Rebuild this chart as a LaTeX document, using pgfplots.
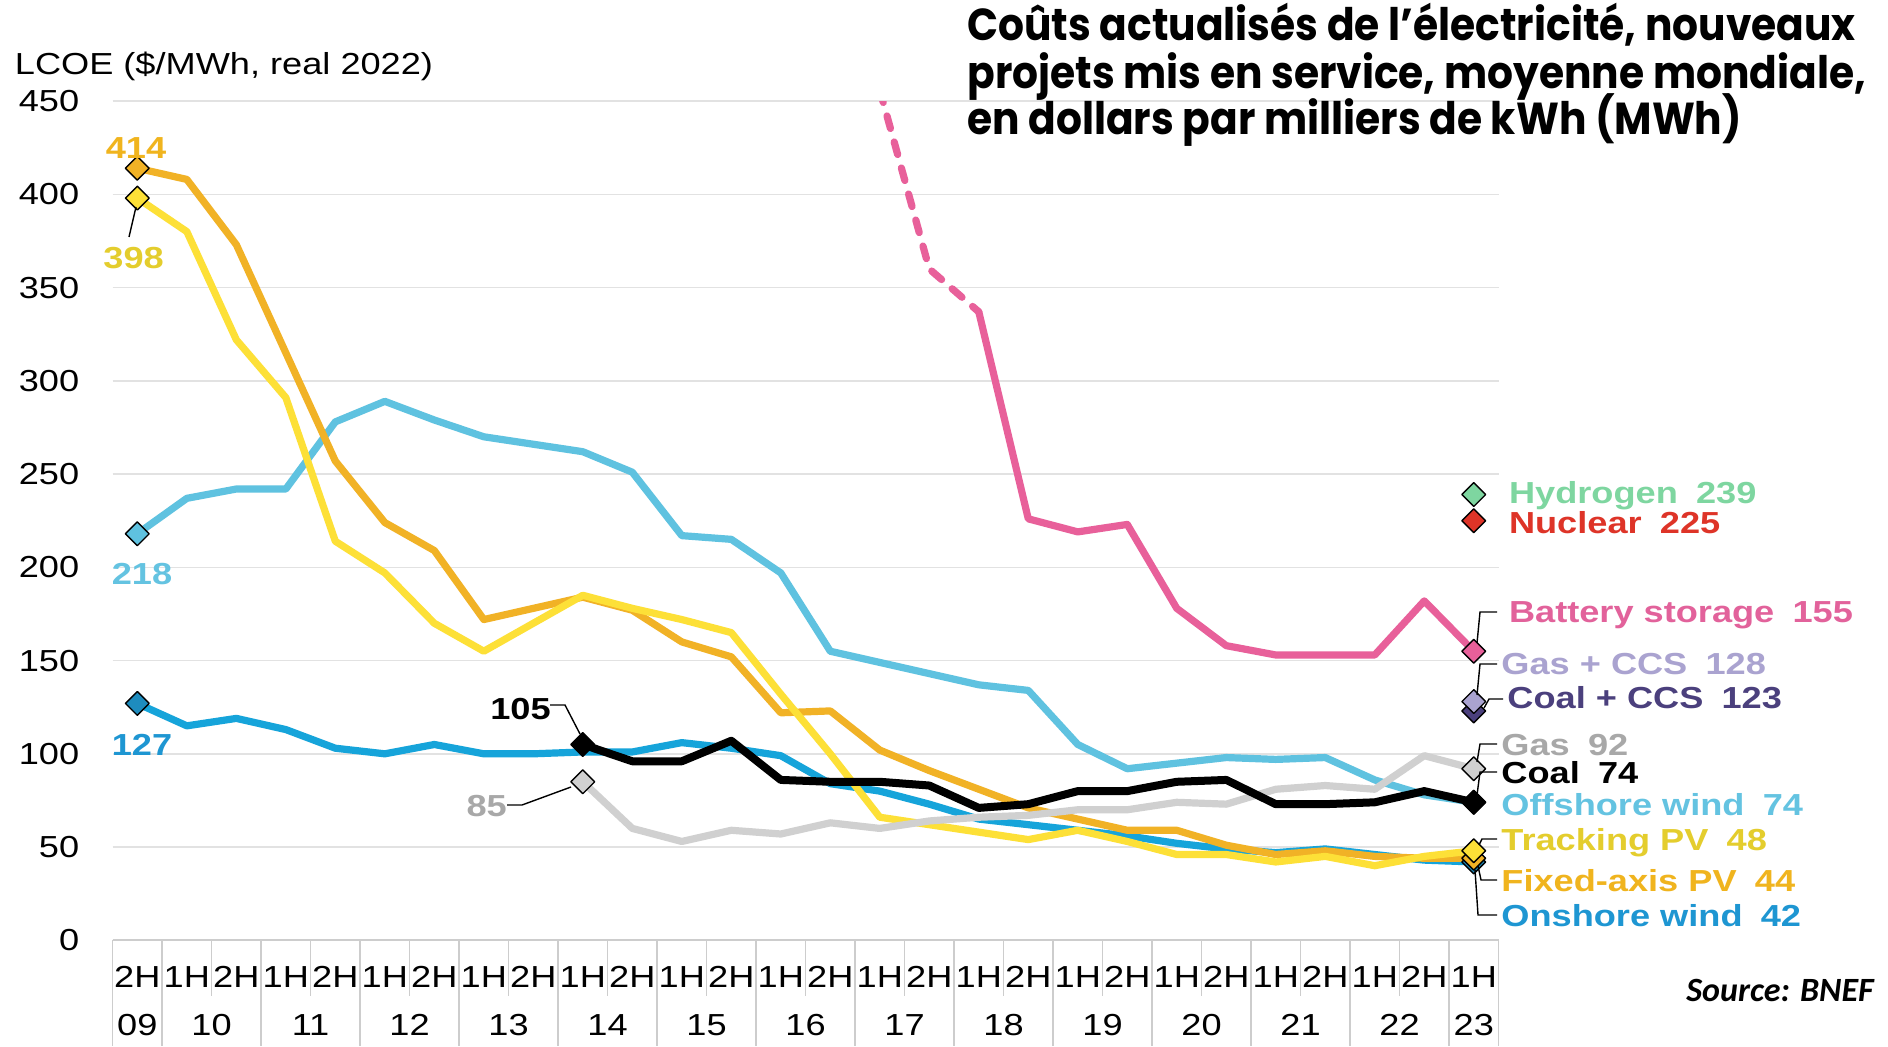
\documentclass[border=0pt]{standalone}
\usepackage{fontspec}
\usepackage{pgfplots}
\usepackage{pgfplotstable}
\pgfplotsset{compat=1.18}
\newfontfamily\lab[FakeStretch=1.19]{Liberation Sans}
\newfontfamily\titlefont[FakeStretch=0.91]{Poppins}
\newfontfamily\srcfont{Carlito}
\newcommand\tickf{\lab\fontsize{15.2}{18}\selectfont}
\newcommand\labb{\lab\bfseries\fontsize{15.2}{18}\selectfont}
\definecolor{cfixed}{RGB}{241,178,38}
\definecolor{ctrack}{RGB}{253,224,55}
\definecolor{coff}{RGB}{95,194,224}
\definecolor{con}{RGB}{22,164,218}
\definecolor{cgas}{RGB}{208,208,208}
\definecolor{cbat}{RGB}{232,96,154}
\definecolor{cgasccs}{RGB}{170,163,208}
\definecolor{ccoalccs}{RGB}{75,64,125}
\definecolor{chyd}{RGB}{126,214,160}
\definecolor{cnuc}{RGB}{222,52,40}
\definecolor{lfixed}{RGB}{240,180,30}
\definecolor{ltrack}{RGB}{228,205,45}
\definecolor{loff}{RGB}{100,195,225}
\definecolor{lon}{RGB}{30,150,210}
\definecolor{lgas}{RGB}{168,168,168}
\definecolor{lbat}{RGB}{226,98,155}
\definecolor{monshore}{RGB}{30,140,190}
\definecolor{cgrid}{RGB}{226,226,226}
\definecolor{csep}{RGB}{205,205,205}

\pgfplotstableread{
x y
0 414
1 408
2 373
3 315
4 257
5 224
6 209
7 172
8 178
9 184
10 177
11 160
12 152
13 122
14 123
15 102
16 91
17 81
18 71
19 65
20 59
21 59
22 51
23 46
24 48
25 45
26 44
27 44
}\fixedpv
\pgfplotstableread{
x y
0 398
1 380
2 322
3 291
4 214
5 197
6 170
7 155
8 170
9 185
10 178
11 172
12 165
13 132
14 100
15 66
16 62
17 58
18 54
19 59
20 53
21 46
22 46
23 42
24 45
25 40
26 45
27 48
}\trackpv
\pgfplotstableread{
x y
0 218
1 237
2 242
3 242
4 278
5 289
6 279
7 270
8 266
9 262
10 251
11 217
12 215
13 197
14 155
15 149
16 143
17 137
18 134
19 105
20 92
21 95
22 98
23 97
24 98
25 86
26 78
27 74
}\offshore
\pgfplotstableread{
x y
0 127
1 115
2 119
3 113
4 103
5 100
6 105
7 100
8 100
9 101
10 101
11 106
12 103
13 99
14 84
15 80
16 73
17 65
18 62
19 59
20 56
21 52
22 49
23 47
24 49
25 46
26 43
27 42
}\onshore
\pgfplotstableread{
x y
9 105
10 96
11 96
12 107
13 86
14 85
15 85
16 83
17 71
18 73
19 80
20 80
21 85
22 86
23 73
24 73
25 74
26 80
27 74
}\coal
\pgfplotstableread{
x y
9 85
10 60
11 53
12 59
13 57
14 63
15 60
16 64
17 66
18 67
19 70
20 70
21 74
22 73
23 81
24 83
25 81
26 99
27 92
}\gas
\pgfplotstableread{
x y
15 456
16 360
17 337
}\batdash
\pgfplotstableread{
x y
17 337
18 226
19 219
20 223
21 178
22 158
23 153
24 153
25 153
26 182
27 155
}\bat

\tikzset{dia/.style={only marks, mark=square*, mark size=4.2pt,
  mark options={rotate=45, solid, draw=black, line width=0.7pt, fill=#1}}}

\begin{document}
\begin{tikzpicture}
\fill[white] (0,0) rectangle (944pt,523pt);
\path[use as bounding box] (0,0) rectangle (944pt,523pt);
\begin{axis}[
  at={(56.3pt,52.85pt)}, anchor=south west,
  scale only axis, width=692.95pt, height=419.6pt,
  xmin=-0.5, xmax=27.5, ymin=0, ymax=450,
  axis line style={draw=none},
  major tick length=0pt,
  ytick={0,50,...,450},
  ymajorgrids, grid style={draw=cgrid, line width=0.8pt},
  xtick={0,...,27},
  xticklabels={2H,1H,2H,1H,2H,1H,2H,1H,2H,1H,2H,1H,2H,1H,2H,1H,2H,1H,2H,1H,2H,1H,2H,1H,2H,1H,2H,1H},
  /pgf/number format/assume math mode=true,
  tick label style={font=\tickf},
  yticklabel style={anchor=east, inner sep=0pt, xshift=-16.5pt},
  xticklabel style={anchor=center, inner sep=0pt, yshift=-18.5pt},
  every axis plot/.append style={line join=round, line cap=round},
]
\addplot[coff, line width=3.6pt] table {\offshore};
\addplot[con, line width=3.6pt] table {\onshore};
\addplot[cfixed, line width=3.6pt] table {\fixedpv};
\addplot[ctrack, line width=3.6pt] table {\trackpv};
\addplot[cgas, line width=3.6pt] table {\gas};
\addplot[black, line width=4pt] table {\coal};
\addplot[cbat, line width=3.6pt, dash pattern=on 6.5pt off 7pt] table {\batdash};
\addplot[cbat, line width=3.6pt] table {\bat};
% markers
\addplot[dia=coff] coordinates {(0,218) (27,74)};
\addplot[dia=monshore] coordinates {(0,127) (27,42)};
\addplot[dia=cfixed] coordinates {(0,414) (27,44)};
\addplot[dia=ctrack] coordinates {(0,398) (27,48)};
\addplot[dia=black] coordinates {(9,105) (27,74)};
\addplot[dia=cgas] coordinates {(9,85) (27,92)};
\addplot[dia=cbat] coordinates {(27,155)};
\addplot[dia=ccoalccs] coordinates {(27,123)};
\addplot[dia=cgasccs] coordinates {(27,128)};
\addplot[dia=cnuc] coordinates {(27,225)};
\addplot[dia=chyd] coordinates {(27,239)};
\end{axis}
\begin{scope}[x=0.5pt,y=-0.5pt,shift={(0pt,523pt)}]
% axis baseline and separators
\draw[csep, line width=1pt] (112.6,940.3) -- (1498.5,940.3);
\foreach \i in {1.5,3.5,...,25.5} \draw[csep, line width=0.7pt] ({137.3+49.5*\i},940.3) -- ++(0,56);
\foreach \i in {-0.5,0.5,2.5,4.5,6.5,8.5,10.5,12.5,14.5,16.5,18.5,20.5,22.5,24.5,26.5,27.5}
  \draw[csep, line width=0.7pt] ({137.3+49.5*\i},940.3) -- (137.3+49.5*\i,1046);
\foreach \l/\i in {09/0,10/1.5,11/3.5,12/5.5,13/7.5,14/9.5,15/11.5,16/13.5,17/15.5,18/17.5,19/19.5,20/21.5,21/23.5,22/25.5,23/27}
  \node[anchor=base, inner sep=0pt, font=\tickf] at ({137.3+49.5*\i},1035) {\l};
% y title
\node[anchor=base west, inner sep=0pt, font=\tickf] at (14.5,75) {LCOE (\$/MWh, real 2022)};
% start labels
\node[anchor=base, inner sep=0pt, font=\labb, text=lfixed] at (136,159) {414};
\node[anchor=base, inner sep=0pt, font=\labb, text=ltrack] at (133.6,268.7) {398};
\draw[black, line width=0.7pt] (136,207) -- (129,237);
\node[anchor=base, inner sep=0pt, font=\labb, text=loff] at (142,584) {218};
\node[anchor=base, inner sep=0pt, font=\labb, text=lon] at (142,755) {127};
\node[anchor=base, inner sep=0pt, font=\labb, text=black] at (520.5,719) {105};
\draw[black, line width=0.7pt] (550,705) -- (565,705) -- (580,734);
\node[anchor=base, inner sep=0pt, font=\labb, text=lgas] at (486.7,816) {85};
\draw[black, line width=0.7pt] (507,805) -- (522,805) -- (571,787);
% right labels
\node[anchor=base west, inner sep=0pt, font=\labb, text=chyd] at (1508.6,503.5) {Hydrogen\hspace{0.6em}239};
\node[anchor=base west, inner sep=0pt, font=\labb, text=cnuc] at (1508.6,533.5) {Nuclear\hspace{0.6em}225};
\node[anchor=base west, inner sep=0pt, font=\labb, text=lbat] at (1508.6,622.7) {Battery storage\hspace{0.6em}155};
\node[anchor=base west, inner sep=0pt, font=\labb, text=cgasccs] at (1501,674.5) {Gas + CCS\hspace{0.6em}128};
\node[anchor=base west, inner sep=0pt, font=\labb, text=ccoalccs] at (1507,708) {Coal + CCS\hspace{0.6em}123};
\node[anchor=base west, inner sep=0pt, font=\labb, text=lgas] at (1501,755) {Gas\hspace{0.6em}92};
\node[anchor=base west, inner sep=0pt, font=\labb, text=black] at (1501,783) {Coal\hspace{0.6em}74};
\node[anchor=base west, inner sep=0pt, font=\labb, text=loff] at (1501,815.5) {Offshore wind\hspace{0.6em}74};
\node[anchor=base west, inner sep=0pt, font=\labb, text=ltrack] at (1501,850) {Tracking PV\hspace{0.6em}48};
\node[anchor=base west, inner sep=0pt, font=\labb, text=lfixed] at (1501,891) {Fixed-axis PV\hspace{0.6em}44};
\node[anchor=base west, inner sep=0pt, font=\labb, text=lon] at (1501,926) {Onshore wind\hspace{0.6em}42};
% leader lines
\draw[black, line width=0.7pt] (1477,643) -- (1480,612) -- (1497,612);
\draw[black, line width=0.7pt] (1477,695) -- (1480,664) -- (1497,664);
\draw[black, line width=0.7pt] (1484,708) -- (1489,699) -- (1503,699);
\draw[black, line width=0.7pt] (1477,762) -- (1480,744) -- (1497,744);
\draw[black, line width=0.7pt] (1477,795) -- (1480,772) -- (1497,772);
\draw[black, line width=0.7pt] (1479,845) -- (1482,839) -- (1497,839);
\draw[black, line width=0.7pt] (1478,866) -- (1481,880) -- (1497,880);
\draw[black, line width=0.7pt] (1475,870) -- (1478,915) -- (1497,915);
% title
\node[anchor=base west, inner sep=0pt, font=\titlefont\bfseries\fontsize{22.4}{26}\selectfont] at (967,41) {Coûts actualisés de l’électricité, nouveaux};
\node[anchor=base west, inner sep=0pt, font=\titlefont\bfseries\fontsize{22.4}{26}\selectfont] at (967,89) {projets mis en service, moyenne mondiale,};
\node[anchor=base west, inner sep=0pt, font=\titlefont\bfseries\fontsize{22.4}{26}\selectfont] at (967,135) {en dollars par milliers de kWh (MWh)};
% source
\node[anchor=base west, inner sep=0pt, font=\srcfont\bfseries\itshape\fontsize{17}{20}\selectfont] at (1686,1001) {Source: BNEF};
\end{scope}
\end{tikzpicture}
\end{document}
